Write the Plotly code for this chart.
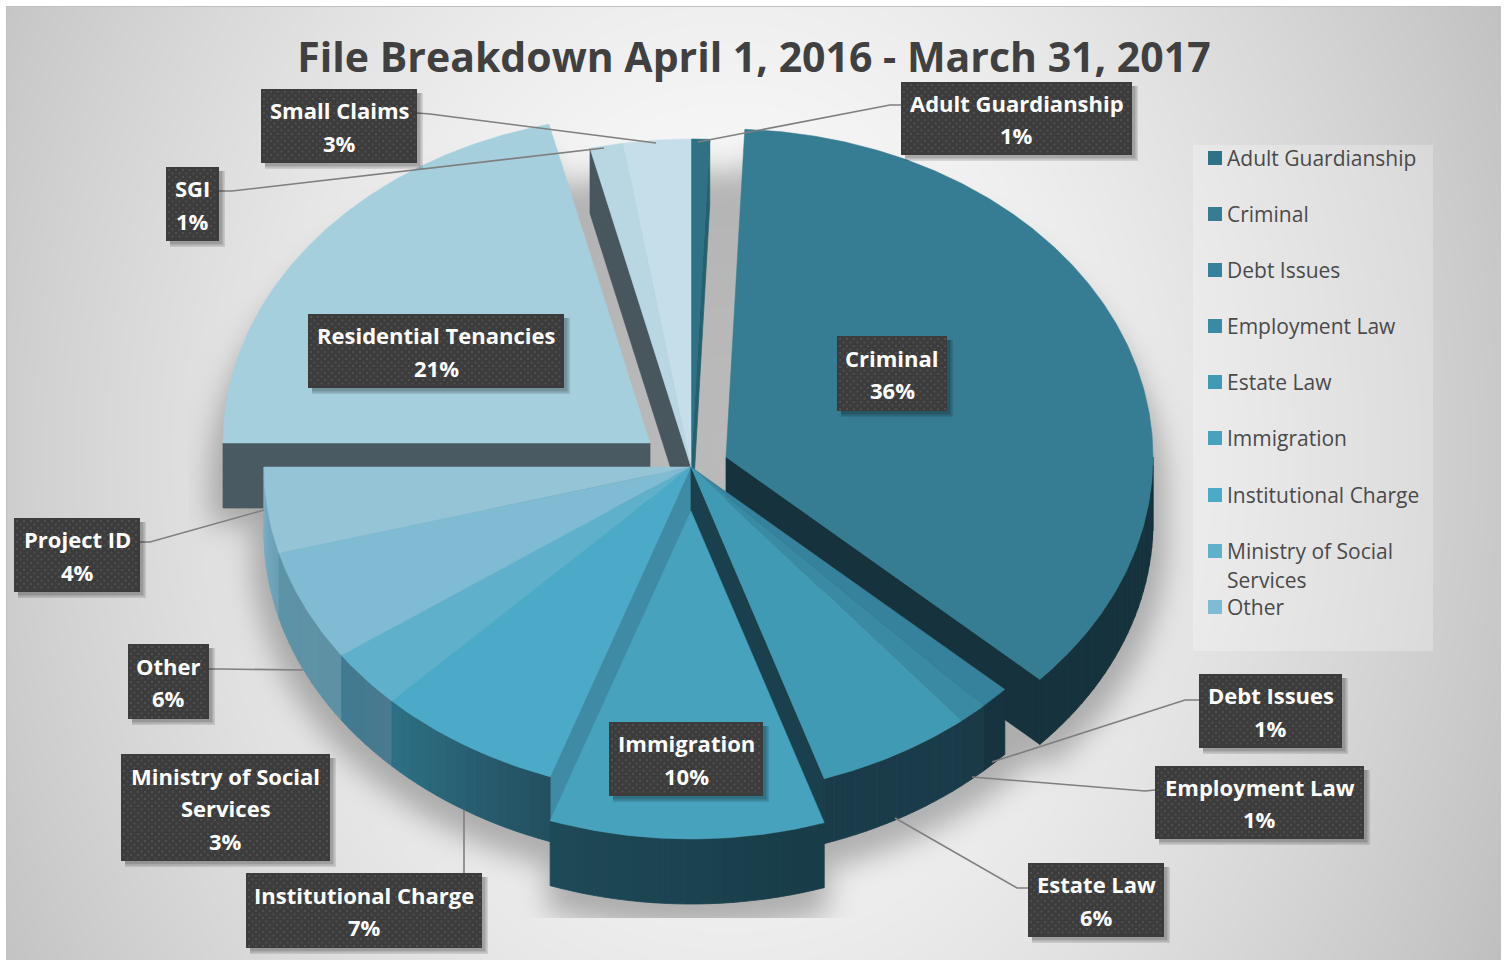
import numpy as np
import plotly.graph_objects as go

TITLE = "File Breakdown April 1, 2016 - March 31, 2017"
categories = ["Adult Guardianship", "Criminal", "Debt Issues", "Employment Law", "Estate Law",
              "Immigration", "Institutional Charge", "Ministry of Social Services", "Other",
              "Project ID", "Residential Tenancies", "SGI", "Small Claims"]
# shares; the printed labels are these, rounded
shares = [0.7, 36.16, 1.14, 1.1, 5.85, 10.4, 7.0, 2.9, 5.51, 4.24, 21.2, 1.25, 2.55]
legend_items = categories[:9]

top_colors = ["#2f7185", "#367c92", "#36819b", "#3a8aa4", "#419ab4", "#46a2bd", "#4aaac7",
              "#5fb1cb", "#7fbbd2", "#95c4d7", "#a5cfdd", "#b8d7e3", "#c5deea"]
side_colors = [("#24606f", "#24606f"), ("#15323d", "#15323d"), ("#16333f", "#16333f"),
               ("#1b3a47", "#1b3a47"), ("#1a3c4a", "#1a3c4a"), ("#183c48", "#1f4a58"),
               ("#234f5f", "#2e7186"), ("#4a7a8f", "#417b92"), ("#5f91a4", "#5d94a8"),
               ("#6a9fb5", "#7cb0c7"), ("#4a5a62", "#4a5a62"), ("#48565e", "#48565e"),
               ("#48565e", "#48565e")]
offsets = {"Criminal": (35, -10), "Residential Tenancies": (-41, -24), "Immigration": (0, 44)}
walls = {"Adult Guardianship": ("end", "#24606f"), "Criminal": ("end", "#15323d"),
         "Estate Law": ("end", "#1a3f4d"), "Institutional Charge": ("start", "#3f8ba5"),
         "Residential Tenancies": ("start", "#4a5a62"), "SGI": ("start", "#48565e")}
draw_order = ["Adult Guardianship", "Small Claims", "SGI", "Residential Tenancies", "Criminal",
              "Project ID", "Other", "Ministry of Social Services", "Institutional Charge",
              "Debt Issues", "Employment Law", "Estate Law", "Immigration"]
label_boxes = {"Adult Guardianship": (901, 82, 1132, 155), "Small Claims": (261, 89, 417, 163),
               "SGI": (166, 167, 219, 241), "Residential Tenancies": (308, 314, 564, 388),
               "Criminal": (837, 336, 947, 411), "Project ID": (14, 518, 140, 592),
               "Other": (128, 644, 209, 719), "Ministry of Social Services": (121, 754, 330, 861),
               "Institutional Charge": (246, 873, 482, 948), "Immigration": (609, 722, 763, 796),
               "Debt Issues": (1199, 674, 1342, 748), "Employment Law": (1155, 766, 1364, 839),
               "Estate Law": (1028, 863, 1164, 937)}
leaders = [[(901, 105), (890, 105), (698, 142)], [(417, 113), (430, 114), (656, 143)],
           [(219, 191), (232, 191), (604, 148)], [(140, 542), (150, 542), (264, 510)],
           [(209, 669), (220, 669), (303, 670)], [(464, 873), (464, 810)],
           [(1199, 700), (1185, 700), (992, 762)], [(1155, 790), (1145, 791), (972, 777)],
           [(1028, 888), (1017, 888), (895, 818)]]

W, H = 1505, 960
CX, CY, RX, RY, DEPTH = 691, 467, 427, 328, 65
bounds = np.concatenate([[0], np.cumsum(shares)]) * 3.6
span = {c: (bounds[i], bounds[i + 1]) for i, c in enumerate(categories)}


def hex_rgb(c):
    return np.array([int(c[i:i + 2], 16) for i in (1, 3, 5)], float)


def mix(a, b, t):
    v = hex_rgb(a) * (1 - t) + hex_rgb(b) * t
    return "rgb(%d,%d,%d)" % tuple(v)


def pt(a, off=(0, 0), dy=0):
    r = np.radians(a)
    return CX + off[0] + RX * np.sin(r), CY + off[1] - RY * np.cos(r) + dy


# ---------- background: radial grey gradient with the soft floor shadow ----------
yy, xx = np.mgrid[0:H, 0:W]
d = np.hypot((xx - 730) / 850.0, (yy - 450) / 1100.0)
bg = 255 - 62 * d ** 1.5
mask = np.zeros((H, W), bool)
for s in range(40, 81, 5):
    u = (xx - CX) / (RX * 1.03)
    v = (yy - CY - s) / (RY * 1.03)
    mask |= u * u + v * v <= 1
    for c, off in offsets.items():
        a0, a1 = span[c]
        u = (xx - CX - off[0]) / (RX * 1.03)
        v = (yy - CY - off[1] - s) / (RY * 1.03)
        ang = np.degrees(np.arctan2(u, -v)) % 360
        mask |= (u * u + v * v <= 1) & (ang >= a0) & (ang <= a1)
sigma = 14.0
fx = np.fft.fftfreq(W)[None, :]
fy = np.fft.fftfreq(H)[:, None]
blur = np.fft.ifft2(np.fft.fft2(mask.astype(float)) * np.exp(-2 * (np.pi * sigma) ** 2 * (fx ** 2 + fy ** 2))).real
blur = np.clip(blur, 0, 1) * (xx >= 188) * (yy <= 917)
bg = bg * (1 - 0.27 * blur)
panel = (xx >= 1193) & (xx < 1433) & (yy >= 145) & (yy < 651)
bg[panel] += 0.25 * (255 - bg[panel])
bg[:6, :] = 255
bg[:, :6] = 255
bg[:, 1501:] = 255
bg[6:7, 6:1501] = 192
bg[6:, 6:7] = 192
z = np.clip(bg, 0, 255).astype(np.uint8)

fig = go.Figure()
fig.add_trace(go.Heatmap(z=z, x0=0.5, dx=1, y0=0.5, dy=1, zmin=0, zmax=255, showscale=False,
                         zsmooth="fast", hoverinfo="skip",
                         colorscale=[[0, "rgb(0,0,0)"], [1, "rgb(255,255,255)"]]))


def poly(xs, ys, color, lw=0.7):
    fig.add_trace(go.Scatter(x=list(xs), y=list(ys), mode="lines", fill="toself", fillcolor=color,
                             line=dict(color=color, width=lw), hoverinfo="skip", showlegend=False))


# ---------- slices, back to front ----------
for name in draw_order:
    i = categories.index(name)
    off = offsets.get(name, (0, 0))
    a0, a1 = span[name]
    if name in walls:
        end, col = walls[name]
        ex, ey = pt(a1 if end == "end" else a0, off)
        ax, ay = CX + off[0], CY + off[1]
        poly([ax, ex, ex, ax, ax], [ay, ey, ey + DEPTH, ay + DEPTH, ay], col)
    lo, hi = max(a0, 90), min(a1, 270)
    if hi > lo:
        n = max(1, int((hi - lo) / 1.5))
        edges = np.linspace(lo, hi, n + 1)
        for k in range(n):
            arc = np.linspace(edges[k], edges[k + 1], 4)
            px, py = pt(arc, off)
            poly(np.r_[px, px[::-1], px[0]], np.r_[py, py[::-1] + DEPTH, py[0]],
                 mix(side_colors[i][0], side_colors[i][1], (k + 0.5) / n), 0.8)
    arc = np.linspace(a0, a1, max(3, int((a1 - a0) * 2)))
    px, py = pt(arc, off)
    poly(np.r_[CX + off[0], px, CX + off[0]], np.r_[CY + off[1], py, CY + off[1]], top_colors[i], 0.5)

# ---------- leader lines ----------
for line in leaders:
    fig.add_trace(go.Scatter(x=[p[0] for p in line], y=[p[1] for p in line], mode="lines",
                             line=dict(color="#7f7f7f", width=1.6), hoverinfo="skip", showlegend=False))

# ---------- data-label boxes: shadow, dark plate, dotted texture ----------
annotations = []
dots_x, dots_y = [], []
for name in categories:
    x0, y0, x1, y1 = label_boxes[name]
    for s in (6, 4.5, 3):
        poly([x0 + 4, x1 + s, x1 + s, x0 + 4, x0 + 4], [y0 + 4, y0 + 4, y1 + s, y1 + s, y0 + 4],
             "rgba(0,0,0,0.11)", 0)
    poly([x0, x1, x1, x0, x0], [y0, y0, y1, y1, y0], "#3c3c3c", 0)
    row = 0
    yp = y0 + 3
    while yp < y1 - 1:
        xp = x0 + 3 + (3.5 if row % 2 else 0)
        while xp < x1 - 1:
            dots_x.append(xp)
            dots_y.append(yp)
            xp += 7
        yp += 3.5
        row += 1
    words = ["Ministry of Social", "Services"] if name.startswith("Ministry") else [name]
    rows = words + [f"{round(shares[categories.index(name)])}%"]
    mid = (y0 + y1) / 2
    for j, t in enumerate(rows):
        annotations.append(dict(x=(x0 + x1) / 2, y=mid + 0.7 + (j - (len(rows) - 1) / 2) * 32.5,
                                xref="x", yref="y", showarrow=False, text=t,
                                font=dict(family="Open Sans", size=22, color="white", weight=700)))
fig.add_trace(go.Scatter(x=dots_x, y=dots_y, mode="markers", hoverinfo="skip", showlegend=False,
                         marker=dict(symbol="square", size=2, color="rgba(255,255,255,0.10)", line_width=0)))

# ---------- legend ----------
legend_y = [158, 214, 270, 326, 382, 438, 495, 551, 607]
fig.add_trace(go.Scatter(x=[1215] * len(legend_items), y=legend_y, mode="markers", hoverinfo="skip",
                         showlegend=False,
                         marker=dict(symbol="square", size=14, line_width=0,
                                     color=[top_colors[categories.index(c)] for c in legend_items])))
for name, y in zip(legend_items, legend_y):
    lines = ["Ministry of Social", "Services"] if name.startswith("Ministry") else [name]
    for j, t in enumerate(lines):
        annotations.append(dict(x=1225, y=y + j * 29, xref="x", yref="y", xanchor="left", showarrow=False,
                                text=t, font=dict(family="Open Sans", size=21, color="#4a4a4a")))

fig.update_layout(
    width=W, height=H, margin=dict(l=0, r=0, t=0, b=0), paper_bgcolor="white", plot_bgcolor="white",
    showlegend=False,
    title=dict(text=TITLE, x=754 / W, y=1 - 58 / H, xanchor="center", yanchor="middle",
               font=dict(family="Open Sans", size=41, color="#404040", weight=700)),
    xaxis=dict(range=[0, W], visible=False, fixedrange=True),
    yaxis=dict(range=[H, 0], visible=False, fixedrange=True),
    annotations=annotations,
)
fig.write_html("out.html", config=dict(displayModeBar=False),
               post_script="document.body.style.margin='0';")
